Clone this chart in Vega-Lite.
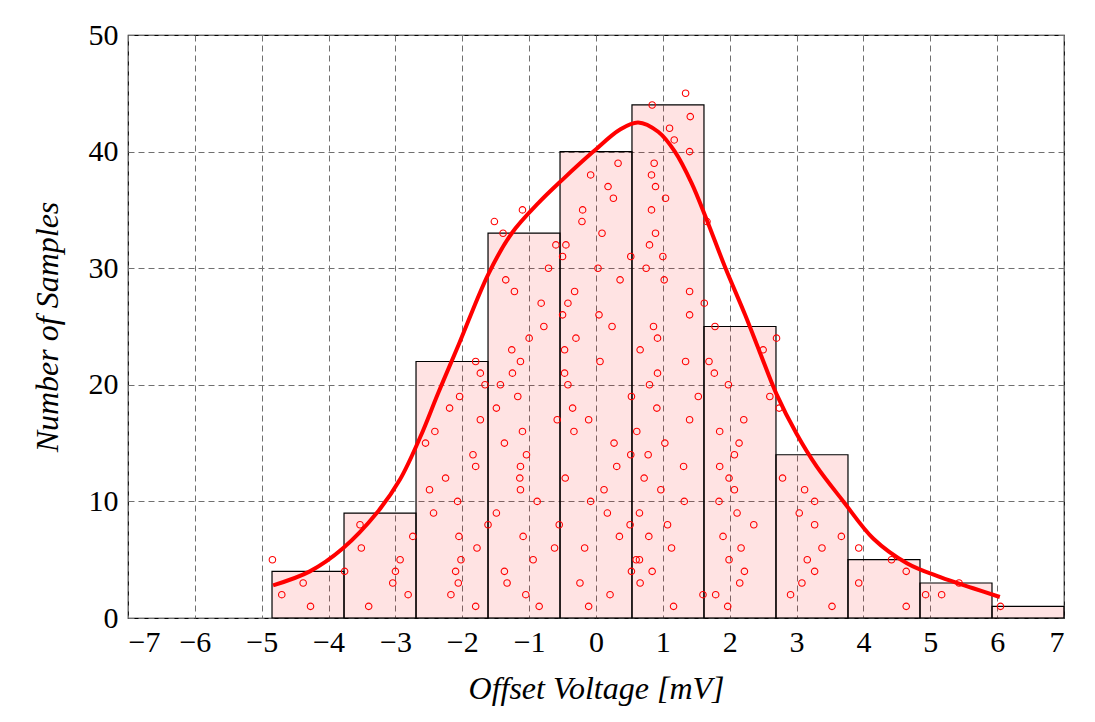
{
  "$schema": "https://vega.github.io/schema/vega-lite/v6.json",
  "width": 936,
  "height": 583,
  "autosize": {"type": "none"},
  "padding": {"left": 128, "top": 35, "right": 31, "bottom": 104},
  "background": "white",
  "config": {
    "view": {"stroke": "black", "strokeWidth": 1.2},
    "font": "Liberation Serif",
    "axis": {
      "grid": true,
      "gridColor": "#707070",
      "gridDash": [6, 4],
      "gridWidth": 1,
      "domain": false,
      "ticks": false,
      "labelFont": "Liberation Serif",
      "labelFontSize": 30,
      "labelColor": "black",
      "titleFont": "Liberation Serif",
      "titleFontSize": 32,
      "titleFontStyle": "italic",
      "titleFontWeight": "normal",
      "titleColor": "black"
    }
  },
  "datasets": {
    "bins": [
      {"lo": -4.846, "hi": -3.769, "count": 4},
      {"lo": -3.769, "hi": -2.692, "count": 9},
      {"lo": -2.692, "hi": -1.615, "count": 22},
      {"lo": -1.615, "hi": -0.538, "count": 33},
      {"lo": -0.538, "hi": 0.538, "count": 40},
      {"lo": 0.538, "hi": 1.615, "count": 44},
      {"lo": 1.615, "hi": 2.692, "count": 25},
      {"lo": 2.692, "hi": 3.769, "count": 14},
      {"lo": 3.769, "hi": 4.846, "count": 5},
      {"lo": 4.846, "hi": 5.923, "count": 3},
      {"lo": 5.923, "hi": 7.0, "count": 1}
    ],
    "curve": [
      {"v": -4.83, "n": 2.8}, {"v": -4.28, "n": 4.0}, {"v": -3.78, "n": 6.0},
      {"v": -3.28, "n": 9.0}, {"v": -2.93, "n": 11.9}, {"v": -2.63, "n": 15.5},
      {"v": -2.36, "n": 19.3}, {"v": -2.05, "n": 23.5}, {"v": -1.61, "n": 29.5},
      {"v": -1.26, "n": 33.0}, {"v": -0.86, "n": 35.6}, {"v": -0.5, "n": 37.6},
      {"v": -0.04, "n": 40.0}, {"v": 0.36, "n": 41.9}, {"v": 0.63, "n": 42.5},
      {"v": 0.93, "n": 41.7}, {"v": 1.18, "n": 40.0}, {"v": 1.43, "n": 37.3},
      {"v": 1.66, "n": 34.1}, {"v": 1.93, "n": 30.1}, {"v": 2.23, "n": 26.0},
      {"v": 2.45, "n": 22.8}, {"v": 2.7, "n": 19.2}, {"v": 3.0, "n": 15.8},
      {"v": 3.3, "n": 13.0}, {"v": 3.7, "n": 10.0}, {"v": 4.15, "n": 6.8},
      {"v": 4.65, "n": 4.7}, {"v": 5.15, "n": 3.5}, {"v": 5.64, "n": 2.55},
      {"v": 6.04, "n": 1.8}
    ],
    "samples": [
      {"v": -4.84, "n": 5}, {"v": -4.7, "n": 2}, {"v": -4.38, "n": 3}, {"v": -4.27, "n": 1},
      {"v": -3.76, "n": 4}, {"v": -3.53, "n": 8}, {"v": -3.51, "n": 6}, {"v": -3.4, "n": 1},
      {"v": -2.93, "n": 5}, {"v": -3.0, "n": 4}, {"v": -3.04, "n": 3}, {"v": -2.81, "n": 2},
      {"v": -2.74, "n": 7},
      {"v": -1.8, "n": 22}, {"v": -1.73, "n": 21}, {"v": -1.66, "n": 20}, {"v": -2.04, "n": 19},
      {"v": -2.19, "n": 18}, {"v": -1.73, "n": 17}, {"v": -2.41, "n": 16}, {"v": -2.55, "n": 15},
      {"v": -1.84, "n": 14}, {"v": -1.8, "n": 13}, {"v": -2.25, "n": 12}, {"v": -2.49, "n": 11},
      {"v": -2.07, "n": 10}, {"v": -2.43, "n": 9}, {"v": -1.615, "n": 8}, {"v": -2.05, "n": 7},
      {"v": -1.78, "n": 6}, {"v": -2.02, "n": 5}, {"v": -2.1, "n": 4}, {"v": -2.06, "n": 3},
      {"v": -2.17, "n": 2}, {"v": -1.8, "n": 1},
      {"v": -0.85, "n": 1}, {"v": -1.05, "n": 2}, {"v": -1.33, "n": 3}, {"v": -1.37, "n": 4},
      {"v": -0.94, "n": 5}, {"v": -0.62, "n": 6}, {"v": -1.09, "n": 7}, {"v": -0.55, "n": 8},
      {"v": -1.49, "n": 9}, {"v": -0.88, "n": 10}, {"v": -1.13, "n": 11}, {"v": -1.14, "n": 12},
      {"v": -1.13, "n": 13}, {"v": -1.04, "n": 14}, {"v": -1.37, "n": 15}, {"v": -1.1, "n": 16},
      {"v": -0.58, "n": 17}, {"v": -1.49, "n": 18}, {"v": -1.17, "n": 19}, {"v": -1.43, "n": 20},
      {"v": -1.25, "n": 21}, {"v": -1.13, "n": 22}, {"v": -1.26, "n": 23}, {"v": -1.0, "n": 24},
      {"v": -0.78, "n": 25}, {"v": -0.82, "n": 27}, {"v": -1.22, "n": 28}, {"v": -1.35, "n": 29},
      {"v": -0.71, "n": 30}, {"v": -0.6, "n": 32}, {"v": -1.39, "n": 33}, {"v": -1.52, "n": 34},
      {"v": -1.1, "n": 35},
      {"v": -0.11, "n": 1}, {"v": 0.21, "n": 2}, {"v": -0.24, "n": 3}, {"v": 0.53, "n": 4},
      {"v": -0.17, "n": 6}, {"v": 0.35, "n": 7}, {"v": 0.51, "n": 8}, {"v": 0.17, "n": 9},
      {"v": -0.08, "n": 10}, {"v": 0.12, "n": 11}, {"v": -0.46, "n": 12}, {"v": 0.31, "n": 13},
      {"v": 0.52, "n": 14}, {"v": 0.27, "n": 15}, {"v": -0.33, "n": 16}, {"v": -0.11, "n": 17},
      {"v": -0.35, "n": 18}, {"v": 0.53, "n": 19}, {"v": -0.42, "n": 20}, {"v": -0.47, "n": 21},
      {"v": 0.06, "n": 22}, {"v": -0.47, "n": 23}, {"v": -0.3, "n": 24}, {"v": 0.24, "n": 25},
      {"v": 0.045, "n": 26}, {"v": -0.5, "n": 26}, {"v": -0.42, "n": 27}, {"v": -0.32, "n": 28},
      {"v": 0.36, "n": 29}, {"v": 0.03, "n": 30}, {"v": -0.5, "n": 31}, {"v": 0.52, "n": 31},
      {"v": -0.45, "n": 32}, {"v": 0.09, "n": 33}, {"v": -0.21, "n": 34}, {"v": -0.2, "n": 35},
      {"v": 0.26, "n": 36}, {"v": 0.18, "n": 37}, {"v": -0.08, "n": 38}, {"v": 0.33, "n": 39},
      {"v": 1.16, "n": 1}, {"v": 1.6, "n": 2}, {"v": 0.66, "n": 3}, {"v": 0.84, "n": 4},
      {"v": 0.6, "n": 5}, {"v": 0.65, "n": 5}, {"v": 1.13, "n": 6}, {"v": 0.79, "n": 7},
      {"v": 1.07, "n": 8}, {"v": 0.65, "n": 9}, {"v": 1.32, "n": 10}, {"v": 0.97, "n": 11},
      {"v": 0.72, "n": 12}, {"v": 1.31, "n": 13}, {"v": 0.78, "n": 14}, {"v": 1.03, "n": 15},
      {"v": 0.61, "n": 16}, {"v": 1.4, "n": 17}, {"v": 0.91, "n": 18}, {"v": 1.53, "n": 19},
      {"v": 0.8, "n": 20}, {"v": 0.92, "n": 21}, {"v": 1.34, "n": 22}, {"v": 0.66, "n": 23},
      {"v": 0.92, "n": 24}, {"v": 0.86, "n": 25}, {"v": 1.4, "n": 26}, {"v": 1.62, "n": 27},
      {"v": 1.4, "n": 28}, {"v": 1.02, "n": 29}, {"v": 0.75, "n": 30}, {"v": 1.0, "n": 31},
      {"v": 0.8, "n": 32}, {"v": 0.89, "n": 33}, {"v": 1.66, "n": 34}, {"v": 0.83, "n": 35},
      {"v": 1.04, "n": 36}, {"v": 0.89, "n": 37}, {"v": 0.83, "n": 38}, {"v": 0.87, "n": 39},
      {"v": 1.4, "n": 40}, {"v": 1.17, "n": 41}, {"v": 1.1, "n": 42}, {"v": 1.41, "n": 43},
      {"v": 0.84, "n": 44}, {"v": 1.34, "n": 45},
      {"v": 1.69, "n": 22}, {"v": 1.77, "n": 21}, {"v": 1.98, "n": 20}, {"v": 2.6, "n": 19},
      {"v": 2.74, "n": 18}, {"v": 2.21, "n": 17}, {"v": 1.85, "n": 16}, {"v": 2.14, "n": 15},
      {"v": 2.07, "n": 14}, {"v": 1.85, "n": 13}, {"v": 1.99, "n": 12}, {"v": 2.07, "n": 11},
      {"v": 1.84, "n": 10}, {"v": 2.11, "n": 9}, {"v": 2.36, "n": 8}, {"v": 1.9, "n": 7},
      {"v": 2.17, "n": 6}, {"v": 1.99, "n": 5}, {"v": 2.22, "n": 4}, {"v": 2.15, "n": 3},
      {"v": 1.79, "n": 2}, {"v": 1.97, "n": 1}, {"v": 1.78, "n": 25}, {"v": 2.5, "n": 23},
      {"v": 2.7, "n": 24},
      {"v": 2.79, "n": 12}, {"v": 3.12, "n": 11}, {"v": 3.27, "n": 10}, {"v": 3.04, "n": 9},
      {"v": 3.27, "n": 8}, {"v": 3.67, "n": 7}, {"v": 3.38, "n": 6}, {"v": 3.16, "n": 5},
      {"v": 3.27, "n": 4}, {"v": 3.08, "n": 3}, {"v": 2.91, "n": 2}, {"v": 3.53, "n": 1},
      {"v": 3.93, "n": 6}, {"v": 3.93, "n": 3},
      {"v": 4.42, "n": 5}, {"v": 4.64, "n": 4}, {"v": 4.93, "n": 2}, {"v": 5.17, "n": 2},
      {"v": 4.64, "n": 1}, {"v": 5.43, "n": 3}, {"v": 6.05, "n": 1}
    ]
  },
  "layer": [
    {
      "data": {"name": "bins"},
      "mark": {"type": "rect", "fill": "#ff0000", "fillOpacity": 0.11, "stroke": "black", "strokeWidth": 1.2},
      "encoding": {
        "x": {
          "field": "lo", "type": "quantitative",
          "scale": {"domain": [-7, 7], "nice": false, "zero": false},
          "axis": {"values": [-7, -6, -5, -4, -3, -2, -1, 0, 1, 2, 3, 4, 5, 6, 7], "labelPadding": 9, "titlePadding": 16, "format": "d"},
          "title": "Offset Voltage [mV]"
        },
        "x2": {"field": "hi"},
        "y": {
          "field": "count", "type": "quantitative",
          "scale": {"domain": [0, 50], "nice": false},
          "axis": {"values": [0, 10, 20, 30, 40, 50], "labelPadding": 10, "titlePadding": 24},
          "title": "Number of Samples"
        },
        "y2": {"datum": 0}
      }
    },
    {
      "data": {"name": "curve"},
      "mark": {"type": "line", "color": "#ff0000", "strokeWidth": 4, "interpolate": "catmull-rom"},
      "encoding": {
        "x": {"field": "v", "type": "quantitative"},
        "y": {"field": "n", "type": "quantitative"}
      }
    },
    {
      "data": {"name": "samples"},
      "mark": {"type": "point", "shape": "circle", "filled": false, "color": "#ff0000", "size": 42, "strokeWidth": 1.1, "opacity": 1},
      "encoding": {
        "x": {"field": "v", "type": "quantitative"},
        "y": {"field": "n", "type": "quantitative"}
      }
    }
  ]
}
